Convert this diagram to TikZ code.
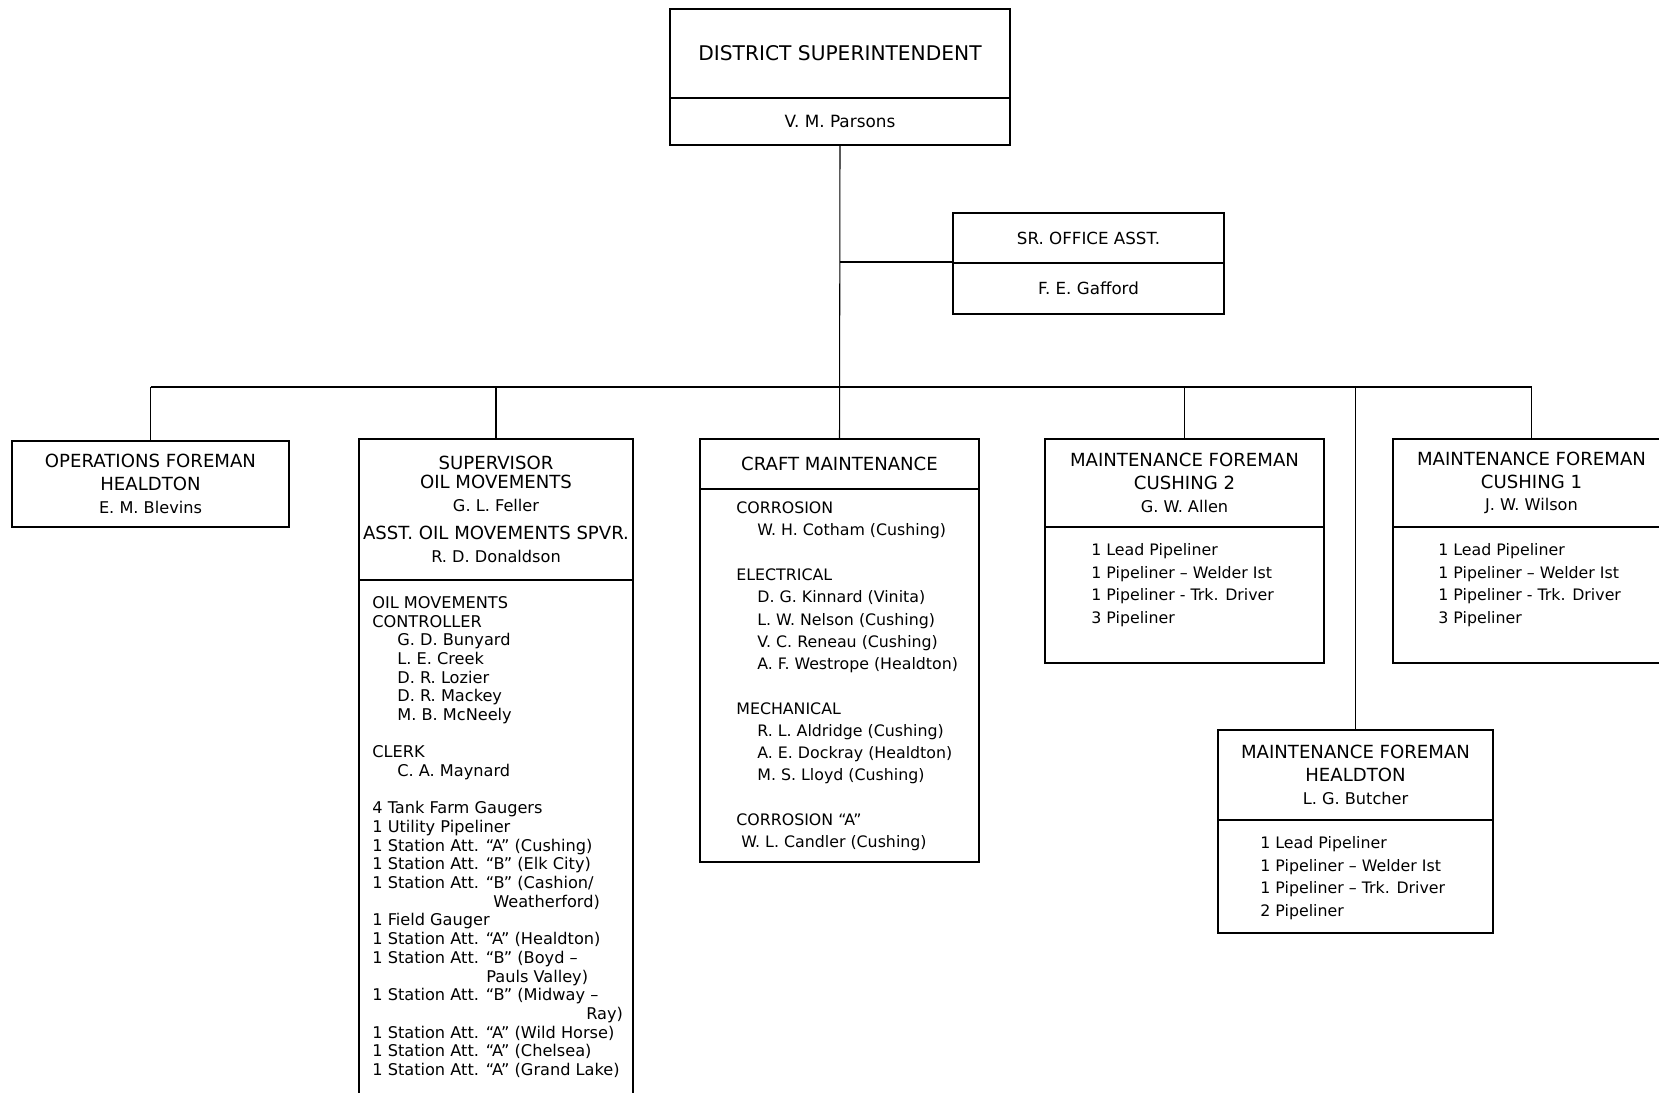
\documentclass[tikz,border=0pt]{standalone}
\usepackage{fontspec}
\setmainfont{DejaVu Sans}
\newcommand{\pxl}{0.02cm}
\newcommand{\headfont}{\fontsize{10.3}{13}\selectfont}
\newcommand{\namefont}{\fontsize{9.2}{13}\selectfont}
\tikzset{
	orgbox/.style 2 args={draw, line width=0.8pt, inner sep=0pt, minimum width=#1*\pxl, minimum height=#2*\pxl, align=center, font=\headfont},
	roster/.style={inner sep=0pt, anchor=west, align=left},
	feed/.style={line width=0.6pt},
	bar/.style={line width=1.2pt}
}

\begin{document}
\begin{tikzpicture}[x=\pxl, y=-\pxl]
		%%%%% START %%%%%
		\useasboundingbox (0,0) rectangle (1659,1092);
		
		\node[orgbox={340}{89}, font=\fontsize{11.5}{14}\selectfont] (dsT) at (840,53.5) {DISTRICT SUPERINTENDENT};
		\node[orgbox={340}{47}, font=\fontsize{9.6}{12}\selectfont] (dsB) at (840,121.5) {V. M. Parsons};
		
		\node[orgbox={271}{50}, font=\fontsize{9.5}{12}\selectfont] (srT) at (1088.5,238) {SR. OFFICE ASST.};
		\node[orgbox={271}{51}, font=\fontsize{9.5}{12}\selectfont] (srB) at (1088.5,288.5) {F. E. Gafford};
		
		\node[orgbox={277}{86}] (opsT) at (150.5,484) {OPERATIONS FOREMAN\\HEALDTON\\{\namefont E. M. Blevins}};
		
		\node[orgbox={274}{141}] (supT) at (496,509.5) {SUPERVISOR\\[-2.2pt]OIL MOVEMENTS\\{\namefont G. L. Feller}\\[2.9pt]ASST. OIL MOVEMENTS SPVR.\\{\namefont R. D. Donaldson}};
		\node[orgbox={274}{530}] (supB) at (496,845) {};
		\node[roster, font=\fontsize{9.2}{10.63}\selectfont] (supList) at (372,837) {OIL MOVEMENTS\\%
CONTROLLER\\%
\hspace*{0.5cm}G. D. Bunyard\\%
\hspace*{0.5cm}L. E. Creek\\%
\hspace*{0.5cm}D. R. Lozier\\%
\hspace*{0.5cm}D. R. Mackey\\%
\hspace*{0.5cm}M. B. McNeely\\[10.63pt]%
CLERK\\%
\hspace*{0.5cm}C. A. Maynard\\[10.63pt]%
4 Tank Farm Gaugers\\%
1 Utility Pipeliner\\%
1 Station Att. “A” (Cushing)\\%
1 Station Att. “B” (Elk City)\\%
1 Station Att. “B” (Cashion/\\%
\hspace*{2.42cm}Weatherford)\\%
1 Field Gauger\\%
1 Station Att. “A” (Healdton)\\%
1 Station Att. “B” (Boyd –\\%
\hspace*{2.28cm}Pauls Valley)\\%
1 Station Att. “B” (Midway –\\%
\hspace*{4.28cm}Ray)\\%
1 Station Att. “A” (Wild Horse)\\%
1 Station Att. “A” (Chelsea)\\%
1 Station Att. “A” (Grand Lake)};
		
		\node[orgbox={279}{50}] (craftT) at (839.5,464) {CRAFT MAINTENANCE};
		\node[orgbox={279}{373}] (craftB) at (839.5,675.5) {};
		\node[roster, font=\fontsize{9}{12.68}\selectfont] (craftList) at (736,676.5) {CORROSION\\%
\hspace*{0.42cm}W. H. Cotham (Cushing)\\[12.68pt]%
ELECTRICAL\\%
\hspace*{0.42cm}D. G. Kinnard (Vinita)\\%
\hspace*{0.42cm}L. W. Nelson (Cushing)\\%
\hspace*{0.42cm}V. C. Reneau (Cushing)\\%
\hspace*{0.42cm}A. F. Westrope (Healdton)\\[12.68pt]%
MECHANICAL\\%
\hspace*{0.42cm}R. L. Aldridge (Cushing)\\%
\hspace*{0.42cm}A. E. Dockray (Healdton)\\%
\hspace*{0.42cm}M. S. Lloyd (Cushing)\\[12.68pt]%
CORROSION “A”\\%
\hspace*{0.1cm}W. L. Candler (Cushing)};
		
		\node[orgbox={279}{88}] (c2T) at (1184.5,483) {MAINTENANCE FOREMAN\\CUSHING 2\\{\namefont G. W. Allen}};
		\node[orgbox={279}{136}] (c2B) at (1184.5,595) {};
		\node[roster, font=\fontsize{9}{12.8}\selectfont] (c2List) at (1091,585) {1 Lead Pipeliner\\1 Pipeliner – Welder Ist\\1 Pipeliner - Trk. Driver\\3 Pipeliner};
		
		\node[orgbox={277}{88}] (c1T) at (1531.5,483) {MAINTENANCE FOREMAN\\CUSHING 1\\{\namefont J. W. Wilson}};
		\node[orgbox={277}{136}] (c1B) at (1531.5,595) {};
		\node[roster, font=\fontsize{9}{12.8}\selectfont] (c1List) at (1438,585) {1 Lead Pipeliner\\1 Pipeliner – Welder Ist\\1 Pipeliner - Trk. Driver\\3 Pipeliner};
		
		\node[orgbox={275}{90}] (hmT) at (1355.5,775) {MAINTENANCE FOREMAN\\HEALDTON\\{\namefont L. G. Butcher}};
		\node[orgbox={275}{113}] (hmB) at (1355.5,876.5) {};
		\node[roster, font=\fontsize{9}{12.8}\selectfont] (hmList) at (1260,878) {1 Lead Pipeliner\\1 Pipeliner – Welder Ist\\1 Pipeliner – Trk. Driver\\2 Pipeliner};
		
		\coordinate (bus) at (840,387);
		\draw[bar] (opsT.north |- bus) -- (c1T.north |- bus);
		\draw[feed] (dsB.south) -- (craftT.north);
		\draw[bar] (dsB.south |- srB.north west) -- (srB.north west);
		\foreach \n in {opsT,supT,c2T,hmT,c1T}
			\draw[feed] (\n.north |- bus) -- (\n.north);
		
		%%%%% END %%%%%
\end{tikzpicture}
\end{document}
